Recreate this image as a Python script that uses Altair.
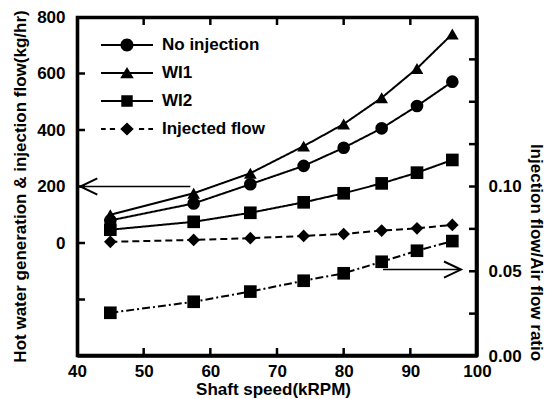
import altair as alt
import pandas as pd

# ---------------- data ----------------
speed = [45, 57.5, 66, 74, 80, 85.7, 91, 96.3]
no_injection = [80, 140, 208, 273, 337, 406, 485, 571]
wi1 = [100, 176, 247, 343, 421, 514, 618, 740]
wi2 = [47, 75, 107, 144, 176, 211, 249, 294]
injected_flow = [4, 11, 17, 25, 32, 44, 52, 64]
flow_ratio = [0.0255, 0.032, 0.038, 0.0444, 0.0488, 0.0556, 0.0621, 0.0678]

series_names = ["No injection", "WI1", "WI2", "Injected flow"]

x_domain = [40, 100]
left_domain = [-400, 800]
right_domain = [0, 0.2]
x_label_values = [40, 50, 60, 70, 80, 90, 100]
x_tick_values = [50, 60, 70, 80, 90]
left_label_values = [0, 200, 400, 600, 800]
left_tick_values = [-200, 0, 200, 400, 600]
right_label_values = [0.0, 0.05, 0.10]
right_tick_values = [0.025, 0.05, 0.075, 0.10, 0.125, 0.15, 0.175]

left_arrow_x = [40.5, 57.0]
left_arrow_y = [200, 200]
right_arrow_x = [85.9, 97.6]
right_arrow_r = [0.051, 0.051]

# ---------------- tables ----------------
series_values = [no_injection, wi1, wi2, injected_flow]
left_df = pd.DataFrame(
    [
        {"x": s, "y": v, "series": name}
        for name, vals in zip(series_names, series_values)
        for s, v in zip(speed, vals)
    ]
)
ratio_df = pd.DataFrame({"x": speed, "r": flow_ratio})
larrow_df = pd.DataFrame({"x": left_arrow_x, "y": left_arrow_y})
rarrow_df = pd.DataFrame({"x": right_arrow_x, "r": right_arrow_r})
xt_df = pd.DataFrame({"x": x_tick_values})
lt_df = pd.DataFrame({"y": left_tick_values})
rt_df = pd.DataFrame({"r": right_tick_values})
hedge_df = pd.DataFrame({"x": x_domain})
vedge_df = pd.DataFrame({"y": left_domain})

W, H = 400, 339
FONT = "Liberation Sans"
TICK = 8
FRAME_W = 2.6

X = alt.X(
    "x:Q",
    scale=alt.Scale(domain=x_domain, nice=False, zero=False),
    axis=alt.Axis(
        values=x_label_values,
        title="Shaft speed(kRPM)",
        labelPadding=7,
        labelFlush=False,
        titleX=196,
        titleY=38,
        titleBaseline="alphabetic",
        titleAlign="center",
    ),
)
YL = alt.Y(
    "y:Q",
    scale=alt.Scale(domain=left_domain, nice=False, zero=False),
    axis=alt.Axis(
        values=left_label_values,
        title="Hot water generation & injection flow(kg/hr)",
        labelPadding=12,
        titleAngle=-90,
        titleX=-52,
        titleY=169,
        titleBaseline="alphabetic",
        titleAlign="center",
    ),
)
YR = alt.Y(
    "r:Q",
    scale=alt.Scale(domain=right_domain, nice=False, zero=False),
    axis=alt.Axis(
        orient="right",
        values=right_label_values,
        format=".2f",
        title="Injection flow/Air flow ratio",
        labelPadding=11,
        titleAngle=90,
        titleX=53,
        titleY=235,
        titleBaseline="alphabetic",
        titleAlign="center",
    ),
)

# legend symbols (fill only): thin bar(s) + marker, in unit coordinates
BAR = "M-1,-0.04H1V0.04H-1Z"
legend_paths = [
    BAR + "M0.25,0A0.25,0.25,0,1,1,-0.25,0A0.25,0.25,0,1,1,0.25,0Z",
    BAR + "M0,-0.23L0.26,0.2L-0.26,0.2Z",
    BAR + "M-0.22,-0.22H0.22V0.22H-0.22Z",
    "M-1,-0.04H-0.82V0.04H-1Z"
    "M-0.66,-0.04H-0.46V0.04H-0.66Z"
    "M0.46,-0.04H0.66V0.04H0.46Z"
    "M0.82,-0.04H1V0.04H0.82Z"
    "M0,-0.25L0.26,0L0,0.25L-0.26,0Z",
]

lines = alt.Chart(left_df).mark_line(color="black", strokeWidth=2).encode(
    x=X,
    y=YL,
    detail="series:N",
    strokeDash=alt.StrokeDash(
        "series:N",
        scale=alt.Scale(domain=series_names, range=[[1, 0], [1, 0], [1, 0], [7, 4]]),
        legend=None,
    ),
)
points = alt.Chart(left_df).mark_point(filled=True, color="black", opacity=1, size=160).encode(
    x=X,
    y=YL,
    shape=alt.Shape(
        "series:N",
        scale=alt.Scale(domain=series_names, range=["circle", "triangle-up", "square", "diamond"]),
        legend=None,
    ),
)
legend_layer = alt.Chart(left_df).mark_point(filled=True, color="black", opacity=0).encode(
    x=X,
    y=YL,
    shape=alt.Shape(
        "series:N",
        scale=alt.Scale(domain=series_names, range=legend_paths),
        legend=alt.Legend(
            orient="none",
            legendX=24,
            legendY=14,
            direction="vertical",
            title=None,
            padding=0,
            symbolSize=2704,
            symbolOpacity=1,
            symbolFillColor="black",
            symbolStrokeWidth=0,
            clipHeight=28,
            rowPadding=0,
            labelOffset=9,
            labelFont=FONT,
            labelFontSize=17,
            labelFontWeight="bold",
            labelColor="black",
        ),
    ),
)
larrow_line = alt.Chart(larrow_df).mark_line(color="black", strokeWidth=1.6).encode(x=X, y=YL)
larrow_head = alt.Chart(larrow_df.head(1)).mark_point(
    shape="M2,-0.95L0,0L2,0.95", size=289, filled=False, color="black", strokeWidth=2, opacity=1
).encode(x=X, y=YL)
xt_bottom = alt.Chart(xt_df).mark_rule(color="black", strokeWidth=2.5).encode(
    x=X, y=alt.value(H), y2=alt.value(H - TICK)
)
xt_top = alt.Chart(xt_df).mark_rule(color="black", strokeWidth=2.5).encode(
    x=X, y=alt.value(0), y2=alt.value(TICK)
)
lt = alt.Chart(lt_df).mark_rule(color="black", strokeWidth=2.5).encode(
    y=YL, x=alt.value(0), x2=alt.value(TICK)
)
# frame edges: lines through the two ends of each scale domain
top_edge = alt.Chart(hedge_df).mark_line(color="black", strokeWidth=FRAME_W).encode(x=X, y=alt.value(1))
bottom_edge = alt.Chart(hedge_df).mark_line(color="black", strokeWidth=FRAME_W).encode(x=X, y=alt.value(H - 1))
left_edge = alt.Chart(vedge_df).mark_line(color="black", strokeWidth=FRAME_W).encode(y=YL, x=alt.value(1))
right_edge = alt.Chart(vedge_df).mark_line(color="black", strokeWidth=FRAME_W).encode(y=YL, x=alt.value(W - 1))

left = alt.layer(
    lines, points, legend_layer, larrow_line, larrow_head, xt_bottom, xt_top, lt,
    top_edge, bottom_edge, left_edge, right_edge,
).resolve_scale(shape="independent")

rline = alt.Chart(ratio_df).mark_line(color="black", strokeWidth=2, strokeDash=[8, 3, 2, 3]).encode(x=X, y=YR)
rpoints = alt.Chart(ratio_df).mark_point(
    shape="square", filled=True, color="black", opacity=1, size=160
).encode(x=X, y=YR)
rarrow_line = alt.Chart(rarrow_df).mark_line(color="black", strokeWidth=1.6).encode(x=X, y=YR)
rarrow_head = alt.Chart(rarrow_df.tail(1)).mark_point(
    shape="M-2,-0.95L0,0L-2,0.95", size=289, filled=False, color="black", strokeWidth=2, opacity=1
).encode(x=X, y=YR)
rt = alt.Chart(rt_df).mark_rule(color="black", strokeWidth=2.5).encode(
    y=YR, x=alt.value(W), x2=alt.value(W - TICK)
)
right = alt.layer(rline, rpoints, rarrow_line, rarrow_head, rt)

chart = (
    alt.layer(left, right)
    .resolve_scale(y="independent")
    .properties(
        width=W,
        height=H,
        autosize=alt.AutoSizeParams(type="none"),
        padding={"left": 77, "top": 17, "right": 77, "bottom": 43},
        background="white",
    )
    .configure_view(stroke="black", strokeWidth=FRAME_W)
    .configure_axis(
        grid=False,
        ticks=False,
        domain=True,
        domainColor="black",
        domainWidth=FRAME_W,
        labelFont=FONT,
        labelFontSize=17,
        labelFontWeight="bold",
        labelColor="black",
        titleFont=FONT,
        titleFontSize=17,
        titleFontWeight="bold",
        titleColor="black",
    )
)

chart.save("out.html", embed_options={"renderer": "svg", "actions": False})
